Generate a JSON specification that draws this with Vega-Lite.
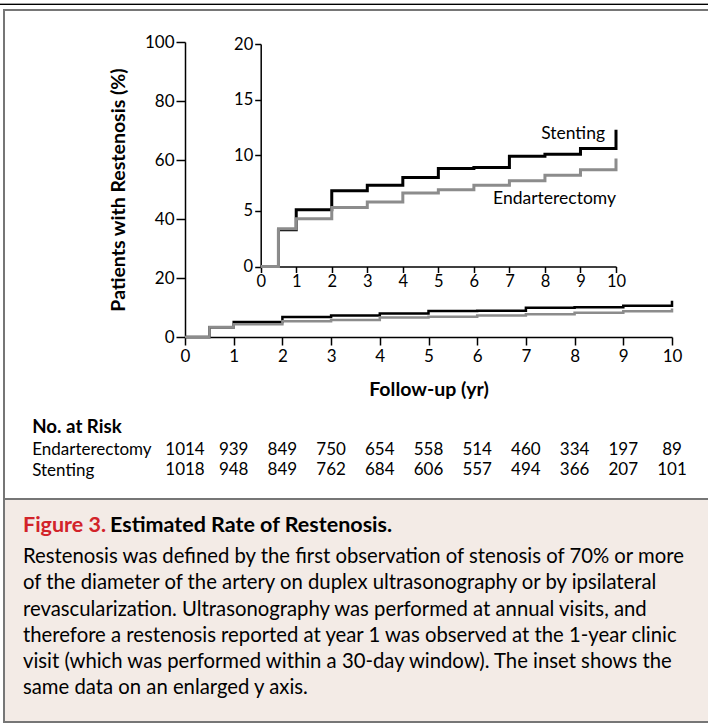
{
  "$schema": "https://vega.github.io/schema/vega-lite/v6.json",
  "width": 707,
  "height": 712,
  "autosize": {"type": "none"},
  "padding": {"left": 4, "top": 10, "right": -3, "bottom": 3},
  "background": "white",
  "config": {
    "view": {"stroke": "#767676", "strokeWidth": 2, "fill": "white"},
    "font": "Lato",
    "text": {"font": "Lato", "color": "black"},
    "axis": {
      "grid": false,
      "labelFont": "Lato",
      "titleFont": "Lato",
      "labelColor": "black",
      "titleColor": "black",
      "domainColor": "black",
      "tickColor": "black",
      "domainWidth": 1.5,
      "tickWidth": 1.5,
      "labelFontSize": 17,
      "labelFlush": false,
      "labelOverlap": false
    }
  },
  "datasets": {
    "curves": [
      {"arm": "Stenting", "year": 0, "pct": 0},
      {"arm": "Stenting", "year": 0.5, "pct": 3.3},
      {"arm": "Stenting", "year": 1, "pct": 5.1},
      {"arm": "Stenting", "year": 2, "pct": 6.8},
      {"arm": "Stenting", "year": 3, "pct": 7.3},
      {"arm": "Stenting", "year": 4, "pct": 8.0},
      {"arm": "Stenting", "year": 5, "pct": 8.8},
      {"arm": "Stenting", "year": 6, "pct": 8.9},
      {"arm": "Stenting", "year": 7, "pct": 9.9},
      {"arm": "Stenting", "year": 8, "pct": 10.1},
      {"arm": "Stenting", "year": 9, "pct": 10.6},
      {"arm": "Stenting", "year": 10, "pct": 12.3},
      {"arm": "Endarterectomy", "year": 0, "pct": 0},
      {"arm": "Endarterectomy", "year": 0.5, "pct": 3.4},
      {"arm": "Endarterectomy", "year": 1, "pct": 4.3},
      {"arm": "Endarterectomy", "year": 2, "pct": 5.3},
      {"arm": "Endarterectomy", "year": 3, "pct": 5.8},
      {"arm": "Endarterectomy", "year": 4, "pct": 6.6},
      {"arm": "Endarterectomy", "year": 5, "pct": 6.9},
      {"arm": "Endarterectomy", "year": 6, "pct": 7.3},
      {"arm": "Endarterectomy", "year": 7, "pct": 7.7},
      {"arm": "Endarterectomy", "year": 8, "pct": 8.2},
      {"arm": "Endarterectomy", "year": 9, "pct": 8.7},
      {"arm": "Endarterectomy", "year": 10, "pct": 9.7}
    ],
    "risk": [
      {"arm": "Endarterectomy", "year": 0, "n": 1014},
      {"arm": "Endarterectomy", "year": 1, "n": 939},
      {"arm": "Endarterectomy", "year": 2, "n": 849},
      {"arm": "Endarterectomy", "year": 3, "n": 750},
      {"arm": "Endarterectomy", "year": 4, "n": 654},
      {"arm": "Endarterectomy", "year": 5, "n": 558},
      {"arm": "Endarterectomy", "year": 6, "n": 514},
      {"arm": "Endarterectomy", "year": 7, "n": 460},
      {"arm": "Endarterectomy", "year": 8, "n": 334},
      {"arm": "Endarterectomy", "year": 9, "n": 197},
      {"arm": "Endarterectomy", "year": 10, "n": 89},
      {"arm": "Stenting", "year": 0, "n": 1018},
      {"arm": "Stenting", "year": 1, "n": 948},
      {"arm": "Stenting", "year": 2, "n": 849},
      {"arm": "Stenting", "year": 3, "n": 762},
      {"arm": "Stenting", "year": 4, "n": 684},
      {"arm": "Stenting", "year": 5, "n": 606},
      {"arm": "Stenting", "year": 6, "n": 557},
      {"arm": "Stenting", "year": 7, "n": 494},
      {"arm": "Stenting", "year": 8, "n": 366},
      {"arm": "Stenting", "year": 9, "n": 207},
      {"arm": "Stenting", "year": 10, "n": 101}
    ],
    "caption": [
      {"line": 0, "part": "label", "text": "Figure 3."},
      {"line": 0, "part": "title", "text": "Estimated Rate of Restenosis."},
      {"line": 1, "part": "body", "text": "Restenosis was defined by the first observation of stenosis of 70% or more"},
      {"line": 2, "part": "body", "text": "of the diameter of the artery on duplex ultrasonography or by ipsilateral"},
      {"line": 3, "part": "body", "text": "revascularization. Ultrasonography was performed at annual visits, and"},
      {"line": 4, "part": "body", "text": "therefore a restenosis reported at year 1 was observed at the 1-year clinic"},
      {"line": 5, "part": "body", "text": "visit (which was performed within a 30-day window). The inset shows the"},
      {"line": 6, "part": "body", "text": "same data on an enlarged y axis."}
    ]
  },
  "layer": [
    {
      "data": {"values": [{}]},
      "layer": [
        {"mark": {"type": "rule", "stroke": "#a0a0a0", "strokeWidth": 1}, "encoding": {"x": {"value": -4}, "x2": {"value": "width"}, "y": {"value": -6.5}}},
        {"mark": {"type": "rule", "stroke": "black", "strokeWidth": 1.2}, "encoding": {"x": {"value": -4}, "x2": {"value": "width"}, "y": {"value": -5.5}}}
      ]
    },
    {
      "data": {"name": "curves"},
      "layer": [
        {
          "transform": [{"filter": "datum.arm === 'Stenting'"}],
          "mark": {"type": "line", "interpolate": "step-after", "color": "black", "strokeWidth": 2.5},
          "encoding": {
            "x": {"field": "year", "type": "quantitative", "scale": {"domain": [0, 10], "range": [181, 668], "nice": false, "zero": false},
              "axis": {"orient": "bottom", "offset": -385, "values": [0,1,2,3,4,5,6,7,8,9,10], "format": "d", "tickSize": 8, "labelPadding": 3, "title": "Follow-up (yr)", "titleFontSize": 19.5, "titleFontWeight": "bold", "titlePadding": 16}},
            "y": {"field": "pct", "type": "quantitative", "scale": {"domain": [0, 100], "range": [327, 32], "nice": false, "zero": false},
              "axis": {"orient": "left", "offset": -181, "values": [0,20,40,60,80,100], "format": "d", "tickSize": 9, "labelPadding": 2, "title": "Patients with Restenosis (%)", "titleFontSize": 19.5, "titleFontWeight": "bold", "titlePadding": 16}}
          }
        },
        {
          "transform": [{"filter": "datum.arm === 'Endarterectomy'"}],
          "mark": {"type": "line", "interpolate": "step-after", "color": "#8c8c8c", "strokeWidth": 2.5},
          "encoding": {
            "x": {"field": "year", "type": "quantitative"},
            "y": {"field": "pct", "type": "quantitative"}
          }
        }
      ]
    },
    {
      "data": {"name": "curves"},
      "layer": [
        {
          "transform": [{"filter": "datum.arm === 'Stenting'"}],
          "mark": {"type": "line", "interpolate": "step-after", "color": "black", "strokeWidth": 3},
          "encoding": {
            "x": {"field": "year", "type": "quantitative", "scale": {"domain": [0, 10], "range": [256.7, 612], "nice": false, "zero": false},
              "axis": {"orient": "bottom", "offset": -455.5, "values": [0,1,2,3,4,5,6,7,8,9,10], "format": "d", "labelFontSize": 16.5, "tickSize": 6, "labelPadding": 1, "title": null}},
            "y": {"field": "pct", "type": "quantitative", "scale": {"domain": [0, 20], "range": [256.5, 34], "nice": false, "zero": false},
              "axis": {"orient": "left", "offset": -256.7, "values": [0,5,10,15,20], "format": "d", "labelFontSize": 16.5, "tickSize": 6, "labelPadding": 2, "title": null}}
          }
        },
        {
          "transform": [{"filter": "datum.arm === 'Endarterectomy'"}],
          "mark": {"type": "line", "interpolate": "step-after", "color": "#8c8c8c", "strokeWidth": 3},
          "encoding": {
            "x": {"field": "year", "type": "quantitative"},
            "y": {"field": "pct", "type": "quantitative"}
          }
        },
        {
          "transform": [{"filter": "datum.arm === 'Stenting' && datum.year === 10"}],
          "mark": {"type": "text", "align": "right", "baseline": "alphabetic", "dx": -11, "dy": 9.7, "fontSize": 17.5},
          "encoding": {
            "x": {"field": "year", "type": "quantitative"},
            "y": {"field": "pct", "type": "quantitative"},
            "text": {"field": "arm"}
          }
        },
        {
          "transform": [{"filter": "datum.arm === 'Endarterectomy' && datum.year === 10"}],
          "mark": {"type": "text", "align": "right", "baseline": "alphabetic", "dx": 0, "dy": 45.5, "fontSize": 17.5},
          "encoding": {
            "x": {"field": "year", "type": "quantitative"},
            "y": {"field": "pct", "type": "quantitative"},
            "text": {"field": "arm"}
          }
        }
      ]
    },
    {
      "data": {"name": "risk"},
      "mark": {"type": "text", "align": "center", "baseline": "alphabetic", "fontSize": 17},
      "encoding": {
        "x": {"field": "year", "type": "quantitative", "scale": {"domain": [0, 10], "range": [181, 668], "nice": false, "zero": false}, "axis": null},
        "y": {"field": "arm", "type": "nominal", "scale": {"type": "point", "domain": ["Endarterectomy", "Stenting"], "range": [444.5, 465.3], "padding": 0},
          "axis": {"orient": "left", "offset": -27.7, "ticks": false, "domain": false, "labelAlign": "left", "labelBaseline": "alphabetic", "labelPadding": 0, "labelFontSize": 17,
            "title": "No. at Risk", "titleAngle": 0, "titleAlign": "left", "titleBaseline": "alphabetic", "titleX": 0, "titleY": 422.3, "titleFontSize": 18.7, "titleFontWeight": "bold"}},
        "text": {"field": "n"}
      }
    },
    {
      "data": {"name": "caption"},
      "layer": [
        {
          "transform": [{"filter": "datum.line === 1"}],
          "mark": {"type": "rect", "fill": "#f3ebe6", "stroke": "#767676", "strokeWidth": 2},
          "encoding": {
            "x": {"value": 0},
            "x2": {"value": "width"},
            "y": {"datum": -1.45, "type": "quantitative", "scale": {"domain": [1, 6], "range": [553.2, 684.2], "nice": false, "zero": false}, "axis": null},
            "y2": {"value": "height"}
          }
        },
        {
          "transform": [{"filter": "datum.part === 'body'"}],
          "mark": {"type": "text", "align": "left", "baseline": "alphabetic", "fontSize": 20.3},
          "encoding": {
            "x": {"datum": 0, "type": "quantitative", "scale": {"domain": [0, 1], "range": [19, 679], "nice": false, "zero": false}, "axis": null},
            "y": {"field": "line", "type": "quantitative"},
            "text": {"field": "text"}
          }
        },
        {
          "transform": [{"filter": "datum.part === 'label'"}],
          "mark": {"type": "text", "align": "left", "baseline": "alphabetic", "fontSize": 21.5, "fontWeight": "bold", "color": "#d2232a", "dy": -5},
          "encoding": {
            "x": {"datum": 0, "type": "quantitative"},
            "y": {"field": "line", "type": "quantitative"},
            "text": {"field": "text"}
          }
        },
        {
          "transform": [{"filter": "datum.part === 'title'"}],
          "mark": {"type": "text", "align": "left", "baseline": "alphabetic", "fontSize": 21.5, "fontWeight": "bold", "color": "black", "dx": 87, "dy": -5},
          "encoding": {
            "x": {"datum": 0, "type": "quantitative"},
            "y": {"field": "line", "type": "quantitative"},
            "text": {"field": "text"}
          }
        }
      ]
    }
  ],
  "resolve": {
    "scale": {"x": "independent", "y": "independent"},
    "axis": {"x": "independent", "y": "independent"}
  }
}
